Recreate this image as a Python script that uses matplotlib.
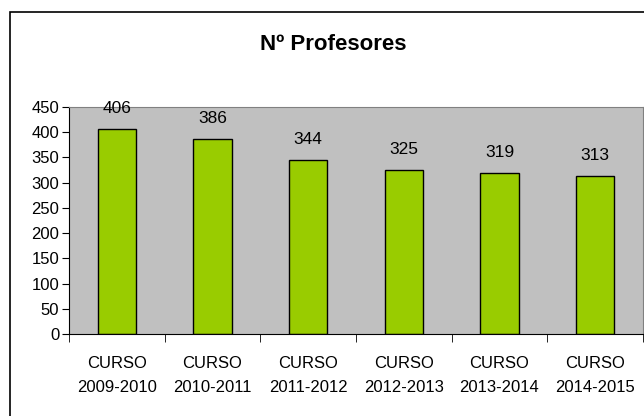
import matplotlib.pyplot as plt
from matplotlib.patches import Rectangle

cursos = ["CURSO\n2009-2010", "CURSO\n2010-2011", "CURSO\n2011-2012",
          "CURSO\n2012-2013", "CURSO\n2013-2014", "CURSO\n2014-2015"]
profesores = [406, 386, 344, 325, 319, 313]

plt.rcParams['font.family'] = ['Liberation Sans', 'DejaVu Sans']

fig = plt.figure(figsize=(6.44, 4.16), dpi=100)
fig.patches.append(Rectangle((10/644, -0.1), 1.0, (416-12)/416 + 0.1,
                             transform=fig.transFigure, fill=False,
                             edgecolor='black', linewidth=1.2))

ax = fig.add_axes([69/644, (416-334)/416, (643-69)/644, (334-107)/416])
ax.set_facecolor('#C0C0C0')
x = range(len(cursos))
ax.bar(x, profesores, width=0.4, color='#99CC00', edgecolor='black', linewidth=1.0)

for i, v in enumerate(profesores):
    ax.annotate(str(v), (i, v), xytext=(0, 15), textcoords='offset points',
                ha='center', va='center', fontsize=12.5)

ax.set_xlim(-0.5, len(cursos) - 0.5)
ax.set_ylim(0, 450)
ax.set_yticks(range(0, 451, 50))
ax.tick_params(axis='y', labelsize=12, length=5, direction='out', pad=2)

ax.set_xticks(x)
ax.set_xticklabels(cursos, fontsize=12, linespacing=1.7)
ax.tick_params(axis='x', length=0, pad=16)
ax.set_xticks([i + 0.5 for i in range(-1, len(cursos))], minor=True)
ax.tick_params(axis='x', which='minor', length=6, direction='out')

ax.spines['left'].set_color('black')
ax.spines['bottom'].set_color('black')
ax.spines['top'].set_color('#808080')
ax.spines['right'].set_color('#808080')

fig.text(333/644, 1 - 50/416, "Nº Profesores", ha='center', va='baseline',
         fontsize=16, fontweight='bold')

fig.savefig("out.png", dpi=100)
